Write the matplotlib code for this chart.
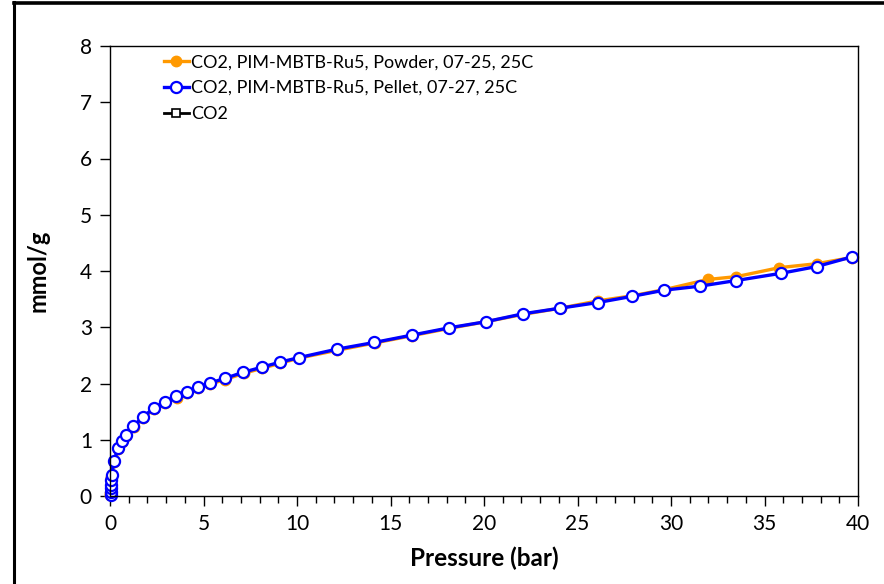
import numpy as np
import matplotlib.pyplot as plt
from matplotlib.lines import Line2D
from matplotlib.ticker import MultipleLocator

plt.rcParams['font.family'] = ['Lato', 'DejaVu Sans']

# CO2, PIM-MBTB-Ru5, Powder, 07-25, 25C
presPolvo = [0.0, 0.02, 0.03, 0.04, 0.05, 0.06, 0.22, 0.45, 0.63, 0.88, 1.26, 1.78, 2.35,
             2.95, 3.56, 4.14, 4.73, 5.36, 6.15, 7.14, 8.13, 9.11, 10.09, 12.14, 14.15,
             16.15, 18.15, 20.13, 22.11, 24.1, 26.1, 27.94, 29.66, 31.98, 33.5, 35.8,
             37.8, 39.66]
cargaPolvo = [0.01, 0.06, 0.12, 0.18, 0.26, 0.34, 0.6, 0.83, 0.96, 1.06, 1.22, 1.39, 1.54,
              1.66, 1.75, 1.83, 1.92, 1.99, 2.07, 2.18, 2.27, 2.36, 2.45, 2.59, 2.72,
              2.85, 2.98, 3.1, 3.23, 3.34, 3.47, 3.56, 3.67, 3.85, 3.9, 4.06,
              4.13, 4.24]

# CO2, PIM-MBTB-Ru5, Pellet, 07-27, 25C
presPellet = [0.04, 0.05, 0.06, 0.07, 0.08, 0.09, 0.21, 0.44, 0.62, 0.87, 1.25, 1.77, 2.34,
              2.94, 3.55, 4.13, 4.72, 5.35, 6.14, 7.13, 8.12, 9.1, 10.1, 12.13, 14.14,
              16.14, 18.14, 20.12, 22.1, 24.09, 26.1, 27.93, 29.65, 31.54, 33.47, 35.9,
              37.8, 39.66]
cargaPellet = [0.02, 0.08, 0.14, 0.2, 0.28, 0.37, 0.63, 0.85, 0.98, 1.08, 1.24, 1.41, 1.56,
               1.68, 1.77, 1.85, 1.94, 2.01, 2.09, 2.2, 2.29, 2.38, 2.46, 2.61, 2.73,
               2.86, 2.99, 3.1, 3.24, 3.34, 3.44, 3.55, 3.66, 3.73, 3.83, 3.96,
               4.08, 4.25]

# serie "CO2" sin datos
presCO2 = []
cargaCO2 = []

fig = plt.figure(figsize=(8.84, 5.84), dpi=100)
ax = fig.add_axes([110/884, 88/584, 748/884, 450/584])

ax.plot(presPolvo, cargaPolvo, '-o', color='#FF9900', lw=2.4, ms=7.5,
        mfc='#FF9900', mec='#FF9900', label='CO2, PIM-MBTB-Ru5, Powder, 07-25, 25C',
        clip_on=False)
ax.plot(presPellet, cargaPellet, '-o', color='#0000FF', lw=2.4, ms=8,
        mfc='white', mec='#0000FF', mew=1.6, label='CO2, PIM-MBTB-Ru5, Pellet, 07-27, 25C',
        clip_on=False)
ax.plot(presCO2, cargaCO2, '-s', color='black', lw=2.0, ms=6,
        mfc='white', mec='black', mew=1.2, label='CO2')

ax.set_xlim(0, 40)
ax.set_ylim(0, 8)
ax.xaxis.set_major_locator(MultipleLocator(5))
ax.xaxis.set_minor_locator(MultipleLocator(1))
ax.yaxis.set_major_locator(MultipleLocator(1))
ax.tick_params(axis='both', which='major', direction='out', length=7, width=1,
               labelsize=15, pad=6)
ax.tick_params(axis='x', which='minor', direction='out', length=5, width=1)
for s in ax.spines.values():
    s.set_linewidth(1.0)

ax.set_xlabel('Pressure (bar)', fontsize=17.5, fontweight='bold', labelpad=9)
ax.set_ylabel('mmol/g', fontsize=17, fontweight='bold', labelpad=22)

ax.legend(loc='upper left', bbox_to_anchor=(0.05, 1.018), frameon=False, fontsize=13,
          handlelength=1.4, handletextpad=0.1, labelspacing=0.55, borderpad=0.4)

# marco exterior
fig.add_artist(Line2D([14/884, 14/884], [0, 1 - 2/584], color='black', lw=2.2))
fig.add_artist(Line2D([14/884, 1], [1 - 2.5/584, 1 - 2.5/584], color='black', lw=2.6))

fig.savefig('out.png', dpi=100)
